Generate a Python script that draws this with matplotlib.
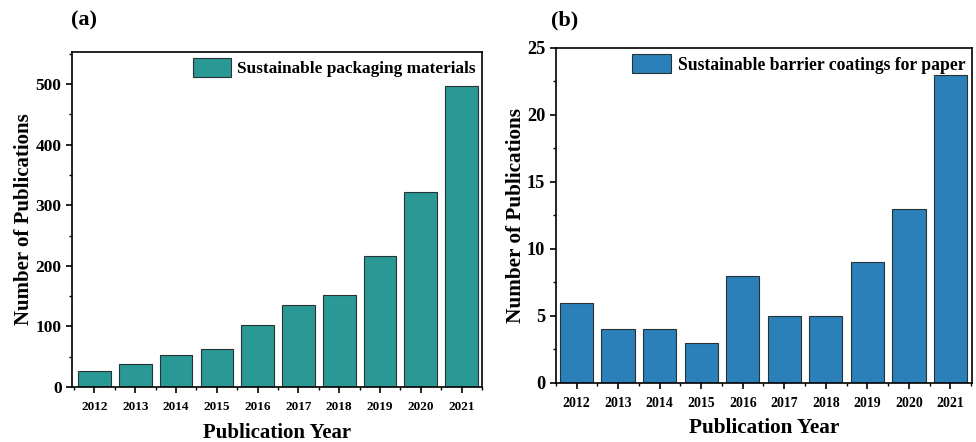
import matplotlib
matplotlib.use("Agg")
import matplotlib.pyplot as plt
from matplotlib.ticker import MultipleLocator
import numpy as np

years = ["2012", "2013", "2014", "2015", "2016", "2017", "2018", "2019", "2020", "2021"]
packaging = [27, 38, 53, 63, 103, 135, 152, 216, 322, 497]
coatings = [6, 4, 4, 3, 8, 5, 5, 9, 13, 23]
label_a = "Sustainable packaging materials"
label_b = "Sustainable barrier coatings for paper"
color_a = "#2a9995"
color_b = "#2b80ba"

plt.rcParams['font.family'] = ['Liberation Serif', 'DejaVu Serif']
plt.rcParams['font.weight'] = 'bold'

fig = plt.figure(figsize=(9.76, 4.42), dpi=100)
ax1 = fig.add_axes([0.0738, 0.1244, 0.420, 0.758])
ax2 = fig.add_axes([0.5694, 0.1335, 0.4266, 0.758])

def style(ax, vals, color, label, ylim, major, minor, xlim, fs_x, fs_y, fs_leg, fs_lab, ylpad, xlpad):
    x = np.arange(len(years))
    ax.bar(x, vals, width=0.8, color=color, edgecolor="#283232", linewidth=0.8, label=label)
    ax.set_xticks(x)
    ax.set_xticklabels(years, fontsize=fs_x, fontweight='bold')
    ax.xaxis.set_minor_locator(MultipleLocator(0.5))
    ax.set_xlim(*xlim)
    ax.set_ylim(*ylim)
    ax.yaxis.set_major_locator(MultipleLocator(major))
    ax.yaxis.set_minor_locator(MultipleLocator(minor))
    for lab in ax.get_yticklabels():
        lab.set_fontsize(fs_y)
        lab.set_fontweight('bold')
    ax.tick_params(axis='both', which='major', direction='out', length=4, width=1.2)
    ax.tick_params(axis='both', which='minor', direction='out', length=2.5, width=1.0)
    ax.tick_params(axis='x', which='major', pad=6)
    for s in ax.spines.values():
        s.set_linewidth(1.2)
    ax.set_xlabel("Publication Year", fontsize=fs_lab, fontweight='bold', labelpad=xlpad)
    ax.set_ylabel("Number of Publications", fontsize=fs_lab, fontweight='bold', labelpad=ylpad)
    ax.legend(loc='upper right', frameon=False, handlelength=2.2,
              handleheight=1.3, borderaxespad=0.05, handletextpad=0.4,
              borderpad=0.3, prop={'weight': 'bold', 'size': fs_leg})

style(ax1, packaging, color_a, label_a, (0, 553), 100, 50, (-0.55, 9.5), 9.5, 12.5, 12.4, 15, 1, 7.5)
style(ax2, coatings, color_b, label_b, (0, 25), 5, 2.5, (-0.5, 9.52), 10, 13.2, 12.7, 15.3, 1, 6)

fig.text(0.0728, 0.954, "(a)", fontsize=16, fontweight='bold', ha='left', va='center')
fig.text(0.5645, 0.953, "(b)", fontsize=16, fontweight='bold', ha='left', va='center')

fig.savefig("out.png", dpi=100)
